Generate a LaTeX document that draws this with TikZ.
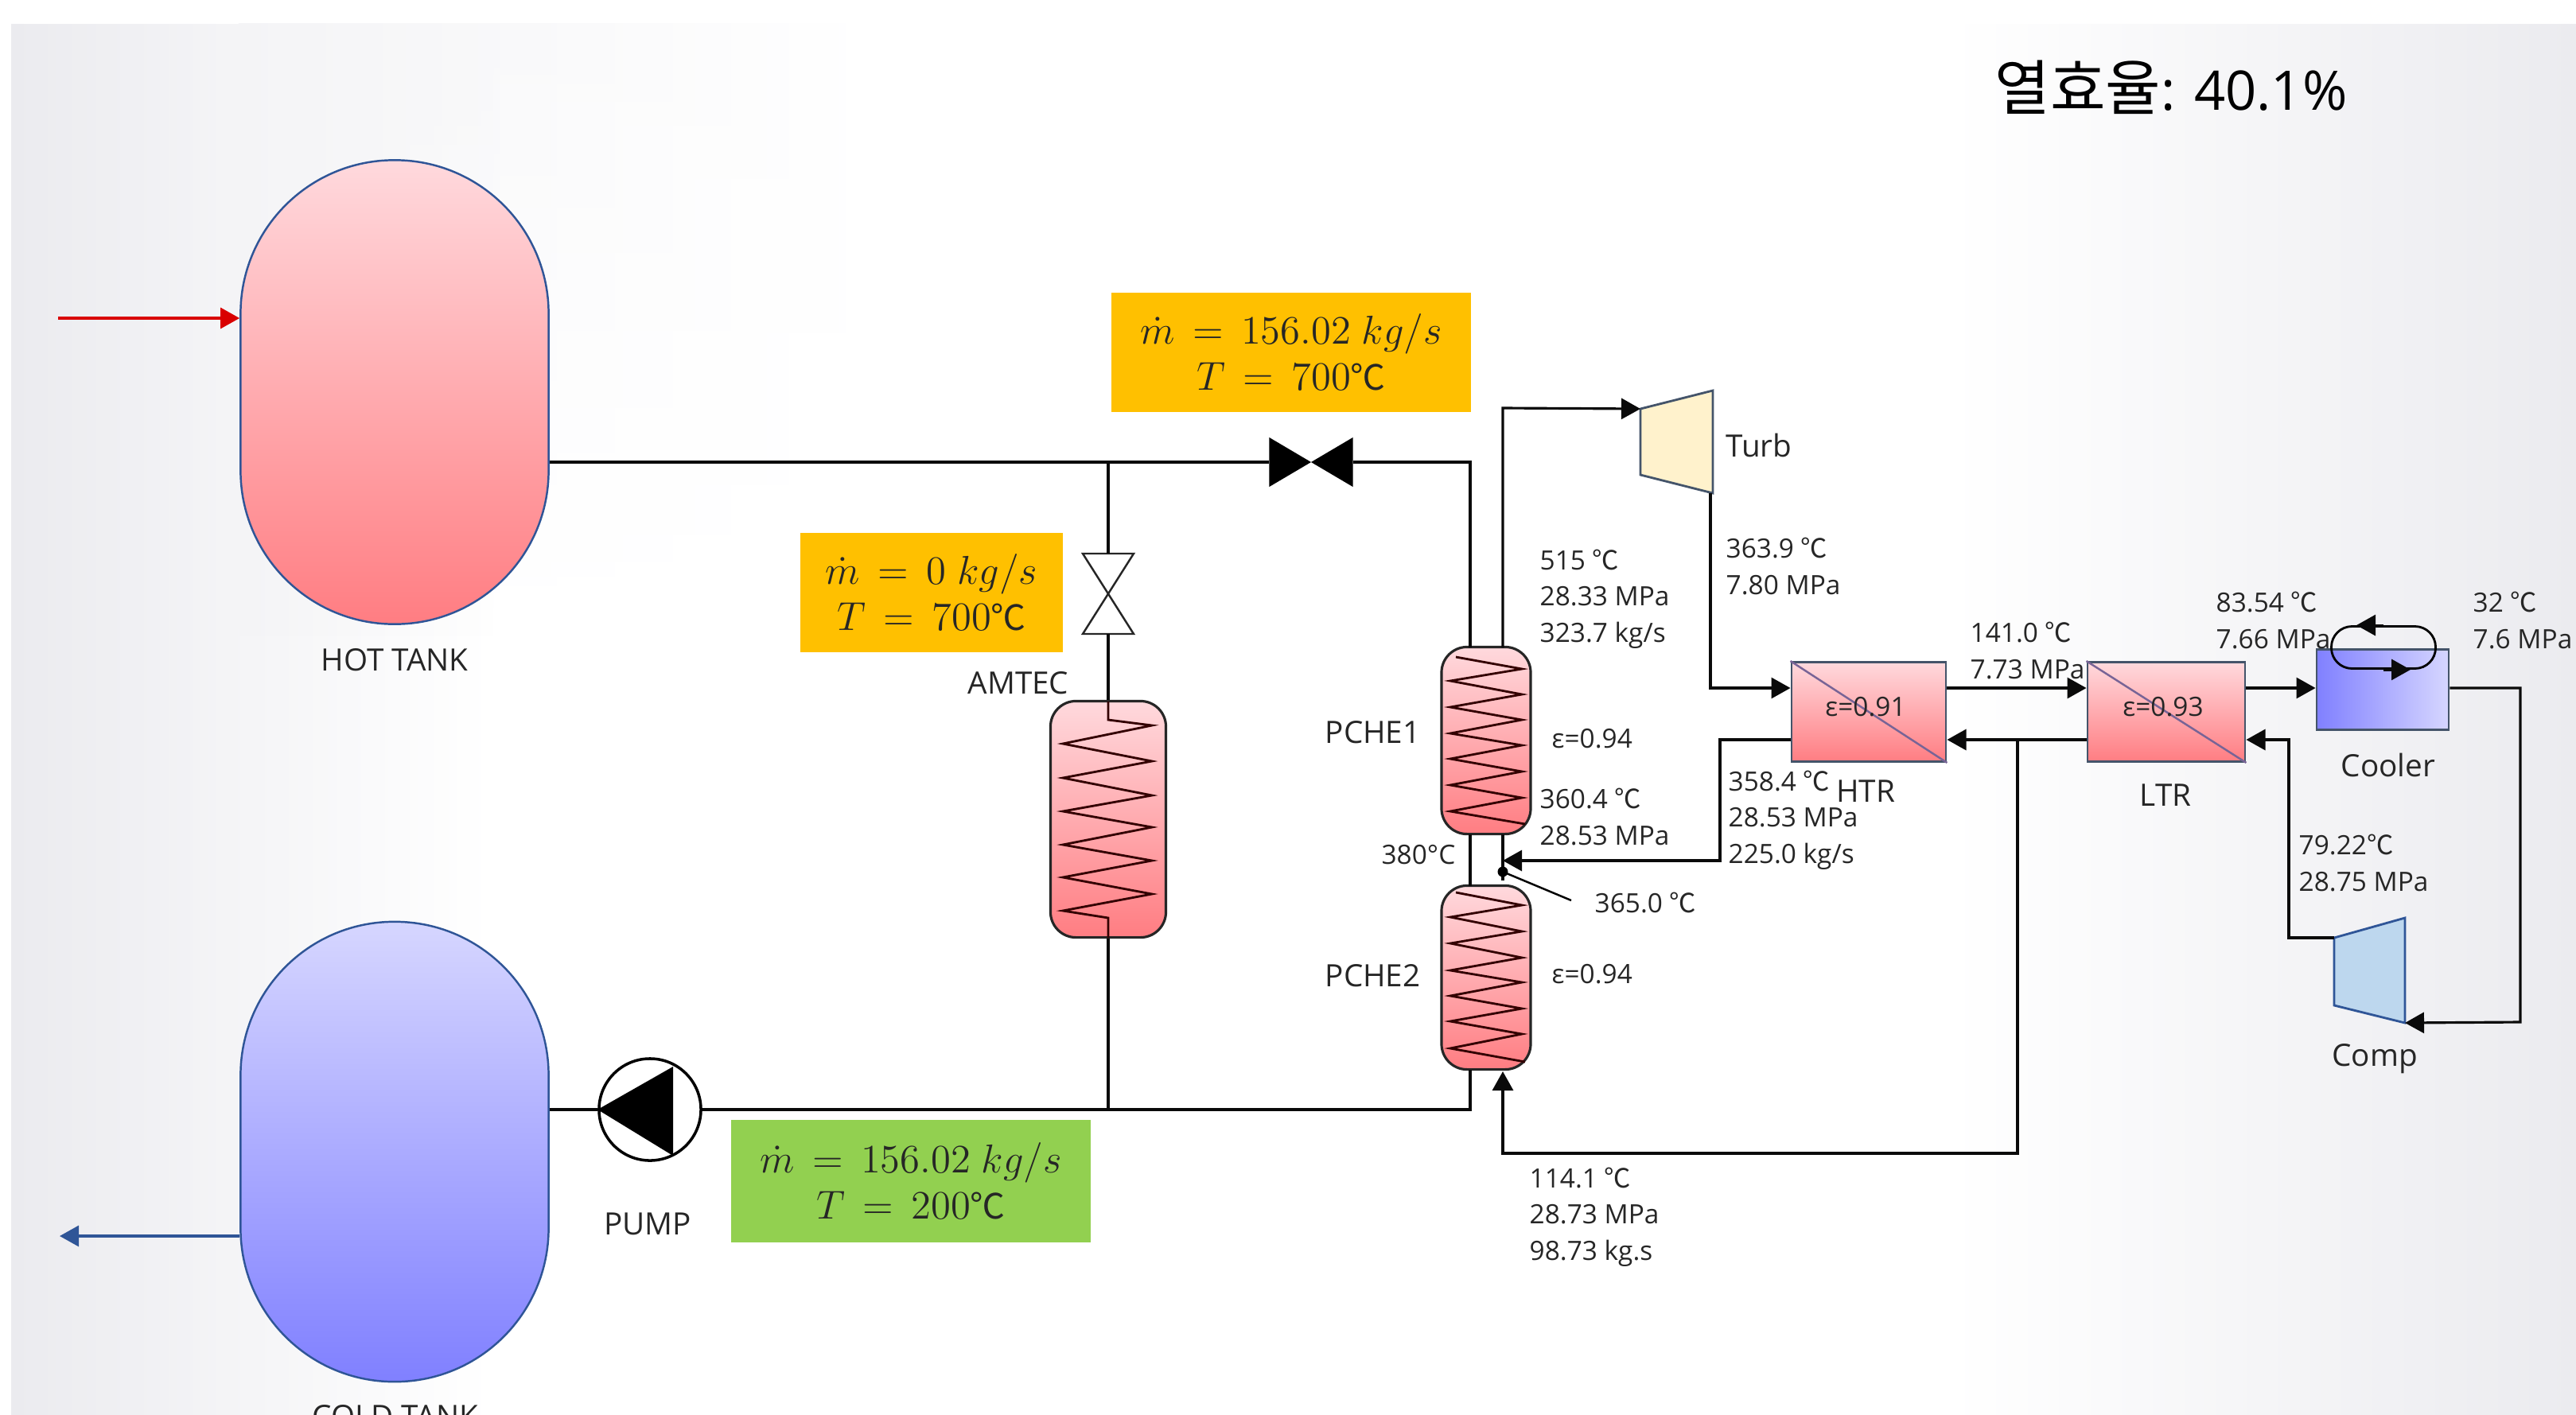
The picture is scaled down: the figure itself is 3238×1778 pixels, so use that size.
\documentclass[tikz,border=0pt]{standalone}
\usepackage[no-math]{fontspec}
\setmainfont{Open Sans}
\newfontfamily\kofont{Noto Sans CJK KR}
\usepackage{xcolor}
\usepackage{tikz}
\usetikzlibrary{
  arrows.meta,
  shapes.geometric,
  fadings
}
\definecolor{PipeBlack}{RGB}{10, 10, 10}
\definecolor{TextDark}{RGB}{38, 38, 38}
\definecolor{EdgeBlue}{RGB}{47, 85, 151}
\definecolor{EdgeSlate}{RGB}{68, 84, 106}
\definecolor{HotTop}{RGB}{255, 217, 221}
\definecolor{HotBottom}{RGB}{255, 125, 130}
\definecolor{ColdTop}{RGB}{214, 214, 255}
\definecolor{ColdBottom}{RGB}{128, 128, 255}
\definecolor{BoxOrange}{RGB}{255, 192, 0}
\definecolor{BoxGreen}{RGB}{146, 208, 80}
\definecolor{TurbFill}{RGB}{255, 242, 204}
\definecolor{CompFill}{RGB}{189, 215, 238}
\definecolor{SplitLine}{RGB}{120, 100, 150}
\definecolor{BackGray}{RGB}{235, 235, 239}
\newcommand{\degc}{{\kofont ℃}}
\newcommand{\boxdegc}{{\fontsize{12.5}{16.5}\selectfont\kofont ℃}}
\tikzset{
  pipe/.style={draw=PipeBlack, line width=0.9pt},
  flow/.style={pipe, -{Triangle[length=0.24cm, width=0.26cm]}},
  label/.style={font=\fontsize{9.5}{13}\selectfont, text=TextDark, inner sep=0pt, align=left},
  namelabel/.style={font=\fontsize{11}{13}\selectfont, text=TextDark, inner sep=0pt},
  infobox/.style={font=\fontsize{15}{16.5}\selectfont, text=black!85, inner sep=0pt, align=center},
  tank/.style={draw=EdgeBlue, line width=0.7pt, minimum width=3.87cm, rounded corners=1.93cm, inner sep=0pt},
  hxcol/.style={draw=black!85, line width=0.9pt, top color=HotTop, bottom color=HotBottom, rounded corners=0.32cm, minimum width=1.12cm, inner sep=0pt},
  recup/.style={draw=EdgeSlate, line width=0.8pt, top color=HotTop, bottom color=HotBottom, minimum height=1.25cm, inner sep=0pt},
  coil/.style={draw=black!80!red, line width=0.8pt},
  bowtie/.style={inner sep=0pt, minimum width=1.05cm, minimum height=0.62cm}
}

\begin{document}
\begin{tikzpicture}[x=0.01cm, y=-0.01cm]
  \useasboundingbox (0,0) rectangle (3238,1778);

  % backdrop
  \shade[left color=BackGray, right color=white] (14,30) rectangle (620,1778);
  \shade[left color=white, right color=BackGray] (2450,30) rectangle (3238,1778);
  \shade[left color=BackGray!55, right color=white, path fading=south] (300,30) rectangle (1100,800);

  % tanks
  \node[tank, top color=HotTop, bottom color=HotBottom, minimum height=5.83cm] (hotTank) at (496,493) {};
  \node[tank, top color=ColdTop, bottom color=ColdBottom, minimum height=5.78cm] (coldTank) at (496,1448) {};
  \node[namelabel] (hotLabel) at (496,830) {HOT TANK};
  \node[namelabel] (coldLabel) at (497,1781) {COLD TANK};

  % salt side
  \coordinate (juncTop) at (1393,581);
  \coordinate (juncBottom) at (1393,1395);
  \coordinate (saltIn) at (73,400);
  \coordinate (saltOut) at (75,1554);
  \draw[flow, draw=red!85!black] (saltIn) -- (hotTank.west |- saltIn);
  \draw[flow, draw=EdgeBlue] (coldTank.west |- saltOut) -- (saltOut);

  \node[hxcol, minimum height=2.97cm, minimum width=1.45cm] (amtec) at (1393,1030) {};
  \node[hxcol] (pcheOne) at (1868,931) [minimum height=2.35cm] {};
  \node[hxcol] (pcheTwo) at (1868,1229) [minimum height=2.31cm] {};

  \node[bowtie, path picture={\fill[black] (path picture bounding box.north west) -- (path picture bounding box.south east) -- (path picture bounding box.north east) -- (path picture bounding box.south west) -- cycle;}] (mainValve) at (1648,581) {};
  \draw[draw=black!85, line width=0.7pt] (1361,696) -- (1425,696) -- (1361,797) -- (1425,797) -- cycle;
  \coordinate (amtecValveTop) at (1393,696);
  \coordinate (amtecValveBot) at (1393,797);
  \node[circle, draw=black, line width=1pt, fill=white, minimum size=1.28cm, inner sep=0pt] (pump) at (817,1395) {};
  \fill[black] (pump.west) -- (846,1341) -- (846,1453) -- cycle;

  \draw[pipe] (hotTank.east |- juncTop) -- (mainValve.west);
  \draw[pipe] (mainValve.east) -- (1848,581) -- (1848,814);
  \draw[pipe] (juncTop) -- (amtecValveTop);
  \draw[pipe] (amtecValveBot) -- (amtec.north);
  \draw[pipe] (amtec.south) -- (juncBottom);
  \draw[pipe] (coldTank.east |- pump) -- (pump.west);
  \draw[pipe] (pump.east) -- (1848,1395) -- (1848,1345);
  \draw[pipe] (1848,1049) -- (1848,1114);

  % coils
  \draw[coil] (1393,882) -- (1393,905) -- (1448,912) -- (1336,935) -- (1448,957) -- (1336,978) -- (1448,1000) -- (1336,1020)
    -- (1448,1040) -- (1336,1062) -- (1448,1082) -- (1336,1103) -- (1448,1124) -- (1336,1145) -- (1393,1154) -- (1393,1179);
  \draw[coil] (1830,826) -- (1913,841) -- (1823,856) -- (1913,873) -- (1823,889) -- (1913,905) -- (1823,922) -- (1913,937)
    -- (1823,954) -- (1913,970) -- (1823,987) -- (1913,1003) -- (1823,1020) -- (1917,1036);
  \draw[coil] (1830,1122) -- (1913,1138) -- (1823,1153) -- (1913,1171) -- (1823,1186) -- (1913,1204) -- (1823,1220) -- (1913,1235)
    -- (1823,1252) -- (1913,1268) -- (1823,1284) -- (1913,1300) -- (1823,1318) -- (1917,1335);

  % power cycle
  \draw[draw=EdgeSlate, fill=TurbFill, line width=0.8pt] (2062,514) coordinate (turbIn) -- (2153,491) -- (2153,620) -- (2062,597) -- cycle;
  \draw[draw=EdgeBlue, fill=CompFill, line width=0.8pt] (2934,1179) coordinate (compOut) -- (3023,1154) -- (3023,1286) coordinate (compIn) -- (2934,1264) -- cycle;
  \node[recup, minimum width=1.94cm] (htr) at (2349,895) {};
  \node[recup, minimum width=1.98cm] (ltr) at (2723,895) {};
  \draw[draw=SplitLine, line width=0.7pt] (htr.north west) -- (htr.south east);
  \draw[draw=SplitLine, line width=0.7pt] (ltr.north west) -- (ltr.south east);
  \node[draw=EdgeSlate, line width=0.8pt, left color=ColdBottom, right color=ColdTop, minimum width=1.66cm, minimum height=1.01cm, inner sep=0pt] (cooler) at (2995,867) {};
  \node[draw=black, line width=0.8pt, rounded corners=0.26cm, minimum width=1.31cm, minimum height=0.53cm, inner sep=0pt] (coolLoop) at (2996,814) {};
  \draw[flow] (coolLoop.north) -- ++(-34,0);
  \draw[flow] (coolLoop.south) -- ++(34,0);

  \coordinate (turbOut) at (2150,620);
  \coordinate (turbBend) at (2150,865);
  \coordinate (teeIn) at (1889,1082);
  \coordinate (teeDot) at (1889,1096);
  \coordinate (splitTee) at (2536,930);
  \draw[flow] (1889,814) -- (1889,513) -- (turbIn);
  \draw[flow] (turbOut) -- (turbBend) -- (htr.west |- turbBend);
  \draw[flow] (htr.east |- turbBend) -- (ltr.west |- turbBend);
  \draw[flow] (ltr.east |- turbBend) -- (cooler.west |- turbBend);
  \draw[flow] (cooler.east |- turbBend) -- (3168,865) -- (3168,1285) -- (compIn);
  \draw[flow] (compOut) -- (2877,1179) -- (2877,930) -- (ltr.east |- splitTee);
  \draw[flow] (ltr.west |- splitTee) -- (htr.east |- splitTee);
  \draw[flow] (splitTee) -- (2536,1450) -- (1889,1450) -- (1889,1347);
  \draw[flow] (htr.west |- splitTee) -- (2162,930) -- (2162,1082) -- (teeIn);
  \draw[pipe] (1889,1049) -- (1889,1107);
  \fill[black] (teeDot) circle (0.065cm);
  \coordinate (leaderEnd) at (1975,1132);
  \draw[draw=black, line width=0.7pt] (teeDot) -- (leaderEnd);

  % boxes
  \node[infobox, fill=BoxOrange, minimum width=4.52cm, minimum height=1.5cm] (boxMain) at (1623,443) {$\dot{m}\,=\,156.02\ k g/s$\\$T\,=\,700$\boxdegc};
  \node[infobox, fill=BoxOrange, minimum width=3.29cm, minimum height=1.49cm] (boxAmtec) at (1171,745) {$\dot{m}\,=\,0\ k g/s$\\$T\,=\,700$\boxdegc};
  \node[infobox, fill=BoxGreen, minimum width=4.51cm, minimum height=1.53cm] (boxCold) at (1145,1485) {$\dot{m}\,=\,156.02\ k g/s$\\$T\,=\,200$\boxdegc};

  % labels
  \node[font=\fontsize{19.5}{24}\selectfont, text=black, inner sep=0pt] (effLabel) at (2729,110) {{\fontsize{21.5}{24}\selectfont\kofont 열효율}: 40.1\%};
  \node[namelabel] (amtecLabel) at (1280,859) {AMTEC};
  \node[namelabel] (pumpLabel) at (814,1539) {PUMP};
  \node[namelabel, anchor=west] (pcheOneLabel) at (1665,921) {PCHE1};
  \node[namelabel, anchor=west] (pcheTwoLabel) at (1665,1227) {PCHE2};
  \node[namelabel, anchor=west] (turbLabel) at (2169,560) {Turb};
  \node[namelabel] (htrLabel) at (2345,995) {HTR};
  \node[namelabel] (ltrLabel) at (2722,1000) {LTR};
  \node[namelabel] (coolerLabel) at (3002,962) {Cooler};
  \node[namelabel] (compLabel) at (2985,1331) {Comp};
  \node[label] (htrEps) at (2345,889) {ε=0.91};
  \node[label] (ltrEps) at (2719,889) {ε=0.93};
  \node[label, anchor=west] (pcheOneEps) at (1950,929) {ε=0.94};
  \node[label, anchor=west] (pcheTwoEps) at (1950,1225) {ε=0.94};
  \node[label, anchor=west] (stateA) at (1935,753) {515 \degc\\28.33 MPa\\323.7 kg/s};
  \node[label, anchor=west] (stateB) at (2169,712) {363.9 \degc\\7.80 MPa};
  \node[label, anchor=west] (stateC) at (1935,1027) {360.4 \degc\\28.53 MPa};
  \node[label, anchor=east] (stateD) at (1830,1075) {380°C};
  \node[label, anchor=west] (stateE) at (2004,1135) {365.0 \degc};
  \node[label, anchor=west] (stateF) at (2172,1031) {358.4 \degc\\28.53 MPa\\225.0 kg/s};
  \node[label, anchor=west] (stateG) at (2476,818) {141.0 \degc\\7.73 MPa};
  \node[label, anchor=west] (stateH) at (2785,780) {83.54 \degc\\7.66 MPa};
  \node[label, anchor=west] (stateI) at (3108,780) {32 \degc\\7.6 MPa};
  \node[label, anchor=west] (stateJ) at (2889,1085) {79.22\degc\\28.75 MPa};
  \node[label, anchor=west] (stateK) at (1922,1530) {114.1 \degc\\28.73 MPa\\98.73 kg.s};
\end{tikzpicture}
\end{document}
